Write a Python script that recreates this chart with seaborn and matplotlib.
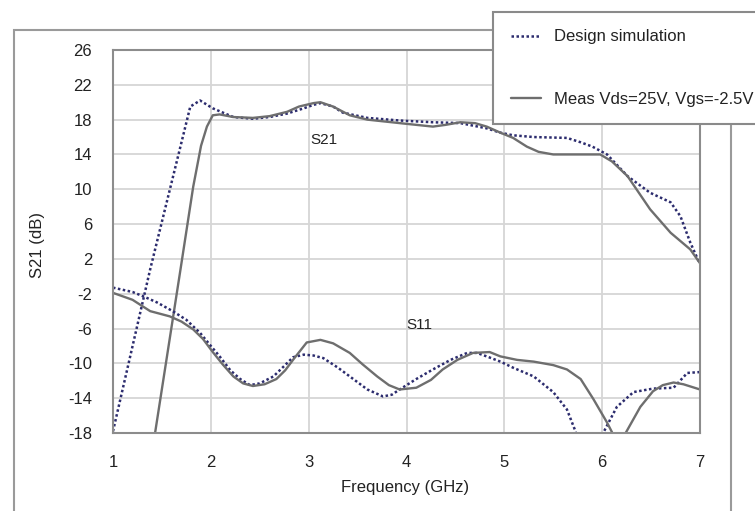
import matplotlib
matplotlib.use("Agg")
import matplotlib.pyplot as plt
from matplotlib.patches import Rectangle
import numpy as np
import pandas as pd
import seaborn as sns

# ---------------- data ----------------
freq_s21_sim = [1.0, 1.38, 1.79, 1.89, 2.02, 2.23, 2.43, 2.6, 2.78, 2.95, 3.05, 3.12, 3.25, 3.35,
                3.6, 3.93, 4.27, 4.55, 4.82, 4.96, 5.09, 5.3, 5.64, 5.78, 5.9, 6.05, 6.26,
                6.49, 6.7, 6.8, 6.9, 6.98, 7.0]
s21_sim = [-17.8, 0.8, 19.5, 20.2, 19.3, 18.3, 18.1, 18.3, 18.7, 19.3, 19.7, 19.9, 19.5, 18.8,
           18.2, 17.9, 17.7, 17.6, 17.0, 16.5, 16.2, 16.0, 15.9, 15.4, 14.9, 14.0, 11.5,
           9.6, 8.5, 6.9, 3.9, 1.9, 1.5]

freq_s21_meas = [1.38, 1.43, 1.69, 1.82, 1.9, 1.96, 2.02, 2.09, 2.23, 2.43, 2.6, 2.78, 2.9,
                 3.05, 3.12, 3.25, 3.42, 3.6, 3.93, 4.1, 4.27, 4.4, 4.55, 4.7, 4.82, 4.96,
                 5.09, 5.23, 5.35, 5.5, 5.75, 5.98, 6.1, 6.26, 6.49, 6.7, 6.9, 7.0]
s21_meas = [-21.6, -18.0, 0.8, 10.3, 15.0, 17.2, 18.5, 18.6, 18.3, 18.2, 18.4, 18.9, 19.5,
            19.9, 20.0, 19.5, 18.5, 18.0, 17.6, 17.4, 17.2, 17.4, 17.7, 17.6, 17.2, 16.5,
            15.9, 14.9, 14.3, 14.0, 14.0, 14.0, 13.2, 11.5, 7.7, 5.0, 3.1, 1.5]

freq_s11_sim = [1.0, 1.2, 1.31, 1.45, 1.61, 1.75, 1.89, 2.0, 2.09, 2.2, 2.3, 2.4, 2.5, 2.64,
                2.75, 2.84, 2.95, 3.05, 3.15, 3.3, 3.42, 3.6, 3.76, 3.85, 3.93, 4.1, 4.27,
                4.45, 4.62, 4.72, 4.82, 4.96, 5.09, 5.3, 5.5, 5.64, 5.72, 5.87, 6.01, 6.15,
                6.32, 6.52, 6.73, 6.87, 7.0]
s11_sim = [-1.3, -1.8, -2.3, -3.0, -4.0, -5.0, -6.5, -8.0, -9.2, -10.8, -11.8, -12.5, -12.3,
           -11.5, -10.3, -9.3, -9.0, -9.1, -9.4, -10.5, -11.5, -13.0, -13.8, -13.6, -13.0,
           -11.8, -10.7, -9.6, -8.8, -8.8, -9.2, -9.8, -10.5, -11.5, -13.3, -15.3, -17.6,
           -23.0, -18.0, -15.0, -13.3, -12.9, -12.8, -11.1, -11.0]

freq_s11_meas = [1.0, 1.2, 1.38, 1.58, 1.7, 1.82, 1.92, 2.02, 2.12, 2.23, 2.33, 2.43, 2.55,
                 2.67, 2.76, 2.84, 2.98, 3.12, 3.25, 3.42, 3.55, 3.7, 3.82, 3.93, 4.1, 4.25,
                 4.37, 4.52, 4.68, 4.85, 4.96, 5.13, 5.3, 5.5, 5.64, 5.78, 5.91, 6.05, 6.1,
                 6.17, 6.24, 6.39, 6.52, 6.62, 6.73, 6.83, 7.0]
s11_meas = [-1.9, -2.7, -4.0, -4.6, -5.2, -6.1, -7.2, -8.7, -10.1, -11.5, -12.3, -12.6, -12.4,
            -11.8, -10.8, -9.6, -7.6, -7.3, -7.7, -8.8, -10.1, -11.5, -12.5, -13.0, -12.8,
            -11.9, -10.7, -9.6, -8.8, -8.7, -9.2, -9.6, -9.8, -10.2, -10.7, -11.8, -14.1,
            -16.8, -17.9, -21.0, -18.0, -15.0, -13.2, -12.5, -12.2, -12.4, -13.0]

y_ticks = [-18, -14, -10, -6, -2, 2, 6, 10, 14, 18, 22, 26]
x_ticks = [1, 2, 3, 4, 5, 6, 7]
label_sim = "Design simulation"
label_meas = "Meas Vds=25V, Vgs=-2.5V"

# ---------------- style ----------------
sns.set_theme(style="white")
plt.rcParams["font.family"] = ["Liberation Sans", "DejaVu Sans"]
plt.rcParams["axes.unicode_minus"] = False

W, H = 755, 511
fig = plt.figure(figsize=(W / 100, H / 100), dpi=100)
fig.patch.set_facecolor("white")

# outer frame
fig.add_artist(Rectangle((14 / W, -0.05), (731 - 14) / W, (1 - 30 / H) + 0.05,
                         transform=fig.transFigure, fill=False,
                         edgecolor="#9a9a9a", lw=1.5, zorder=-1))

ax = fig.add_axes([113 / W, 1 - 433 / H, 587 / W, 383 / H])

sim_color = "#2c2c6e"
meas_color = "#6e6e6e"
sim_ls = (0, (1, 1))

sns.lineplot(x=freq_s21_sim, y=s21_sim, ax=ax, color=sim_color, lw=1.8,
             linestyle=sim_ls, label=label_sim, sort=False)
sns.lineplot(x=freq_s21_meas, y=s21_meas, ax=ax, color=meas_color, lw=1.7,
             label=label_meas, sort=False)
sns.lineplot(x=freq_s11_sim, y=s11_sim, ax=ax, color=sim_color, lw=1.8,
             linestyle=sim_ls, sort=False)
sns.lineplot(x=freq_s11_meas, y=s11_meas, ax=ax, color=meas_color, lw=1.7, sort=False)

ax.set_xlim(1, 7)
ax.set_ylim(-18, 26)
ax.set_xticks(x_ticks)
ax.set_xticklabels([str(t) for t in x_ticks])
ax.set_yticks(y_ticks)
ax.set_yticklabels([str(t) for t in y_ticks])
ax.grid(True, color="#d6d6d6", lw=1.3)
ax.set_axisbelow(True)
for s in ax.spines.values():
    s.set_visible(True)
    s.set_color("#8c8c8c")
    s.set_linewidth(1.5)

ax.tick_params(axis="y", length=0, pad=15, labelsize=12, colors="#222222")
ax.tick_params(axis="x", length=0, pad=16, labelsize=12, colors="#222222")

ax.set_xlabel("Frequency (GHz)", fontsize=12, color="#222222")
ax.set_ylabel("S21 (dB)", fontsize=12, color="#222222")
ax.xaxis.label.set_va("center")
ax.yaxis.label.set_va("center")
ax.xaxis.set_label_coords(0.498, -0.141)
ax.yaxis.set_label_coords(-0.128, 0.49)

ax.text(3.16, 15.7, "S21", ha="center", va="center", fontsize=11, color="#222222")
ax.text(4.13, -5.65, "S11", ha="center", va="center", fontsize=11, color="#222222")

handles, labels = ax.get_legend_handles_labels()
leg = ax.legend(handles, labels, loc="upper left",
                bbox_to_anchor=(493 / W, 1 - 12 / H), bbox_transform=fig.transFigure,
                frameon=True, fancybox=False, framealpha=1, edgecolor="#8a8a8a",
                fontsize=12, handlelength=1.8, handletextpad=0.8, borderpad=1.05,
                labelspacing=2.85, borderaxespad=0)
leg.get_frame().set_linewidth(1.5)
for t in leg.get_texts():
    t.set_color("#222222")

fig.savefig("out.png", dpi=100)
